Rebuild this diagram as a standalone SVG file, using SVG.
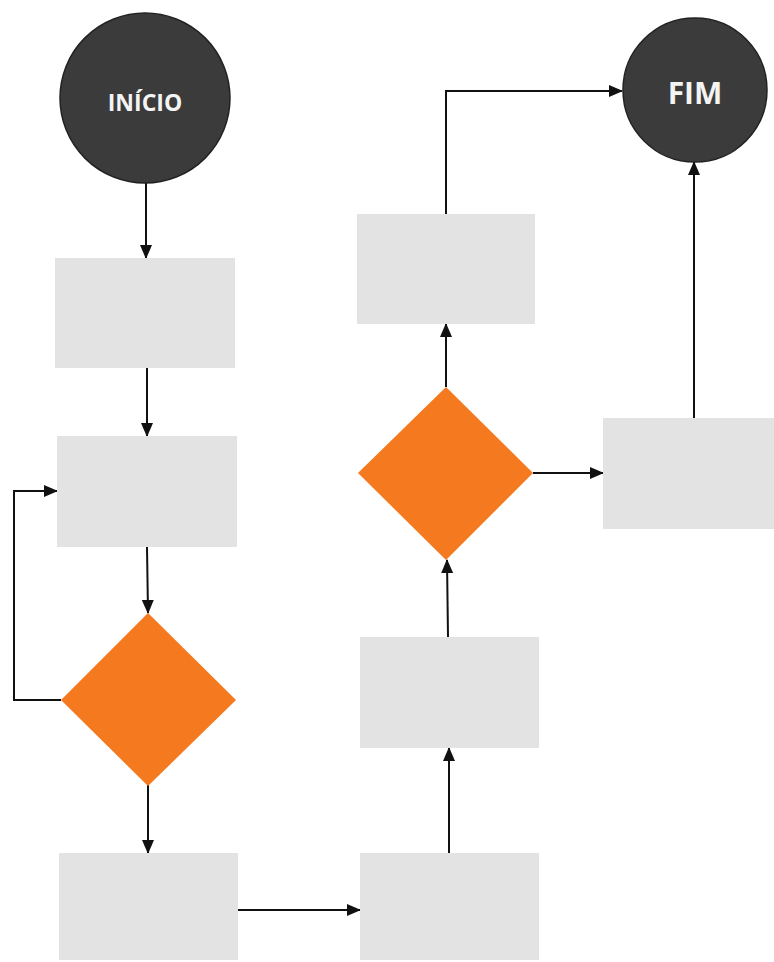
<svg xmlns="http://www.w3.org/2000/svg" width="774" height="962" viewBox="0 0 774 962">
  <defs>
    <marker id="arrow" viewBox="0 0 14 14" refX="13" refY="7" markerWidth="14" markerHeight="14" markerUnits="userSpaceOnUse" orient="auto">
      <path d="M0,1 L14,7 L0,13 Z" fill="#111"/>
    </marker>
    <style>
      .terminal { fill: #3b3b3b; stroke: #222; stroke-width: 1.5; }
      .step { fill: #e3e3e4; }
      .decision { fill: #f5791e; }
      .label { fill: #f4f4f4; font-family: "Open Sans", "Liberation Sans", sans-serif; font-weight: bold; text-anchor: middle; }
      .edge { fill: none; stroke: #111; stroke-width: 2; }
      .arrowed { marker-end: url(#arrow); }
    </style>
  </defs>

  <rect width="774" height="962" fill="#ffffff"/>

  <!-- connectors -->
  <g id="connectors">
    <path class="edge arrowed" d="M146,182 L146,258"/>
    <path class="edge arrowed" d="M147,368 L147,436"/>
    <path class="edge arrowed" d="M147,547 L148,613"/>
    <path class="edge arrowed" d="M61,700 L14,700 L14,491 L57,491"/>
    <path class="edge arrowed" d="M148,785 L148,853"/>
    <path class="edge arrowed" d="M238,910 L360,910"/>
    <path class="edge arrowed" d="M449,853 L449,748"/>
    <path class="edge arrowed" d="M448,637 L447,560"/>
    <path class="edge arrowed" d="M533,473 L603,473"/>
    <path class="edge arrowed" d="M446,387 L446,324"/>
    <path class="edge arrowed" d="M446,214 L446,91 L622,91"/>
    <path class="edge arrowed" d="M694,418 L694,162"/>
  </g>

  <!-- nodes -->
  <g id="inicio">
    <circle class="terminal" cx="145" cy="98" r="85"/>
    <text class="label" x="145" y="111" font-size="23">INÍCIO</text>
  </g>
  <g id="step1">
    <rect class="step" x="55" y="258" width="180" height="110"/>
  </g>
  <g id="step2">
    <rect class="step" x="57" y="436" width="180" height="111"/>
  </g>
  <g id="decision1">
    <polygon class="decision" points="148,613 236,700 148,786 61,700"/>
  </g>
  <g id="step3">
    <rect class="step" x="59" y="853" width="179" height="107"/>
  </g>
  <g id="step4">
    <rect class="step" x="360" y="853" width="179" height="107"/>
  </g>
  <g id="step5">
    <rect class="step" x="360" y="637" width="179" height="111"/>
  </g>
  <g id="decision2">
    <polygon class="decision" points="446,387 533,473 446,560 358,473"/>
  </g>
  <g id="step6">
    <rect class="step" x="357" y="214" width="178" height="110"/>
  </g>
  <g id="step7">
    <rect class="step" x="603" y="418" width="171" height="111"/>
  </g>
  <g id="fim">
    <circle class="terminal" cx="695" cy="90" r="72"/>
    <text class="label" x="695" y="104" font-size="30">FIM</text>
  </g>
</svg>
